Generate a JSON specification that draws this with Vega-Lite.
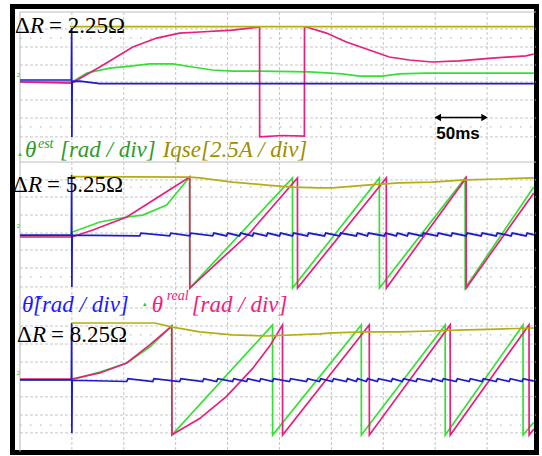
{
"$schema":"https://vega.github.io/schema/vega-lite/v6.json",
"width":542,"height":456,
"autosize":{"type":"fit","contains":"padding"},
"padding":{"left":12.5,"top":6.5,"right":4.5,"bottom":3.5},
"background":"white",
"config":{"view":{"stroke":"#000000","strokeWidth":5,"fill":"white"}},
"datasets":{
"hg":[{"g":1.26},{"g":2.27},{"g":3.28},{"g":4.23},{"g":5.24},{"g":6.25},{"g":7.31},{"g":9.72},{"g":10.68},{"g":11.69},{"g":12.7},{"g":13.65},{"g":14.66},{"g":15.72},{"g":16.9},{"g":17.91},{"g":18.92},{"g":19.93},{"g":20.93},{"g":21.88},{"g":22.9},{"g":23.9}],
"hd":[{"g":1.77},{"g":6.75},{"g":10.12},{"g":15.16},{"g":18.41},{"g":23.46}],
"hs":[{"g":0.31},{"g":8.72}],
"vg":[{"g":0},{"g":50},{"g":100},{"g":150},{"g":200},{"g":250},{"g":300},{"g":350},{"g":400}],
"tr":[
{"p":1,"s":"est","t":-50,"y":4.23},{"p":1,"s":"est","t":0,"y":4.23},{"p":1,"s":"est","t":14.4,"y":3.73},{"p":1,"s":"est","t":36.5,"y":3.45},{"p":1,"s":"est","t":58.7,"y":3.33},{"p":1,"s":"est","t":75,"y":3.22},{"p":1,"s":"est","t":97.1,"y":3.22},{"p":1,"s":"est","t":116.3,"y":3.39},{"p":1,"s":"est","t":135.6,"y":3.56},{"p":1,"s":"est","t":154.8,"y":3.62},{"p":1,"s":"est","t":180.8,"y":3.62},{"p":1,"s":"est","t":228.8,"y":3.67},{"p":1,"s":"est","t":260.6,"y":3.78},{"p":1,"s":"est","t":276.9,"y":3.9},{"p":1,"s":"est","t":299,"y":3.9},{"p":1,"s":"est","t":315.4,"y":3.78},{"p":1,"s":"est","t":341.3,"y":3.73},{"p":1,"s":"est","t":445,"y":3.73},
{"p":2,"s":"est","t":-50,"y":12.86},{"p":2,"s":"est","t":0,"y":12.86},{"p":2,"s":"est","t":0.5,"y":12.64},{"p":2,"s":"est","t":26.9,"y":12.08},{"p":2,"s":"est","t":52.9,"y":11.8},{"p":2,"s":"est","t":68.3,"y":11.69},{"p":2,"s":"est","t":91.3,"y":11.13},{"p":2,"s":"est","t":113.5,"y":9.56},{"p":2,"s":"est","t":113.6,"y":15.78},{"p":2,"s":"est","t":212.5,"y":9.61},{"p":2,"s":"est","t":212.6,"y":15.78},{"p":2,"s":"est","t":296.2,"y":9.61},{"p":2,"s":"est","t":296.3,"y":15.78},{"p":2,"s":"est","t":378.8,"y":9.61},{"p":2,"s":"est","t":378.9,"y":15.78},{"p":2,"s":"est","t":445,"y":10.12},
{"p":3,"s":"est","t":-50,"y":20.93},{"p":3,"s":"est","t":0,"y":20.93},{"p":3,"s":"est","t":26.9,"y":20.49},{"p":3,"s":"est","t":52.9,"y":19.98},{"p":3,"s":"est","t":75,"y":19.09},{"p":3,"s":"est","t":96.2,"y":17.91},{"p":3,"s":"est","t":96.3,"y":24.02},{"p":3,"s":"est","t":193.3,"y":17.85},{"p":3,"s":"est","t":193.4,"y":24.02},{"p":3,"s":"est","t":278.8,"y":17.85},{"p":3,"s":"est","t":278.9,"y":24.02},{"p":3,"s":"est","t":359.6,"y":17.85},{"p":3,"s":"est","t":359.7,"y":24.02},{"p":3,"s":"est","t":434.6,"y":17.85},{"p":3,"s":"est","t":434.7,"y":24.02},{"p":3,"s":"est","t":445,"y":23.3},
{"p":1,"s":"real","t":-50,"y":4.23},{"p":1,"s":"real","t":0,"y":4.29},{"p":1,"s":"real","t":26.9,"y":3.39},{"p":1,"s":"real","t":58.7,"y":2.27},{"p":1,"s":"real","t":81.7,"y":1.77},{"p":1,"s":"real","t":103.8,"y":1.49},{"p":1,"s":"real","t":123.1,"y":1.43},{"p":1,"s":"real","t":154.8,"y":1.32},{"p":1,"s":"real","t":180.8,"y":1.15},{"p":1,"s":"real","t":180.9,"y":7.31},{"p":1,"s":"real","t":202.9,"y":7.23},{"p":1,"s":"real","t":224,"y":7.26},{"p":1,"s":"real","t":224.1,"y":1.15},{"p":1,"s":"real","t":226,"y":1.15},{"p":1,"s":"real","t":245.2,"y":1.49},{"p":1,"s":"real","t":264.4,"y":1.99},{"p":1,"s":"real","t":286.5,"y":2.44},{"p":1,"s":"real","t":305.8,"y":2.83},{"p":1,"s":"real","t":325,"y":3.0},{"p":1,"s":"real","t":347.1,"y":3.11},{"p":1,"s":"real","t":373.1,"y":3.05},{"p":1,"s":"real","t":404.8,"y":2.89},{"p":1,"s":"real","t":437.5,"y":2.77},{"p":1,"s":"real","t":445,"y":2.66},
{"p":2,"s":"real","t":-50,"y":12.92},{"p":2,"s":"real","t":0,"y":12.92},{"p":2,"s":"real","t":20.2,"y":12.53},{"p":2,"s":"real","t":52.9,"y":11.8},{"p":2,"s":"real","t":81.7,"y":10.73},{"p":2,"s":"real","t":113.5,"y":9.56},{"p":2,"s":"real","t":113.6,"y":15.78},{"p":2,"s":"real","t":171.2,"y":12.7},{"p":2,"s":"real","t":217.3,"y":9.61},{"p":2,"s":"real","t":217.4,"y":15.78},{"p":2,"s":"real","t":302.9,"y":9.61},{"p":2,"s":"real","t":303,"y":15.78},{"p":2,"s":"real","t":379.8,"y":9.61},{"p":2,"s":"real","t":379.9,"y":15.78},{"p":2,"s":"real","t":445,"y":10.45},
{"p":3,"s":"real","t":-50,"y":20.88},{"p":3,"s":"real","t":0,"y":20.88},{"p":3,"s":"real","t":26.9,"y":20.54},{"p":3,"s":"real","t":52.9,"y":19.98},{"p":3,"s":"real","t":75,"y":18.97},{"p":3,"s":"real","t":96.2,"y":17.91},{"p":3,"s":"real","t":96.4,"y":24.0},{"p":3,"s":"real","t":123.1,"y":23.1},{"p":3,"s":"real","t":149,"y":21.85},{"p":3,"s":"real","t":174,"y":20.3},{"p":3,"s":"real","t":190.4,"y":19.05},{"p":3,"s":"real","t":202.9,"y":17.85},{"p":3,"s":"real","t":203,"y":24.02},{"p":3,"s":"real","t":286.5,"y":17.85},{"p":3,"s":"real","t":286.6,"y":24.02},{"p":3,"s":"real","t":364.4,"y":17.85},{"p":3,"s":"real","t":364.5,"y":24.02},{"p":3,"s":"real","t":440.4,"y":17.85},{"p":3,"s":"real","t":440.5,"y":24.02},{"p":3,"s":"real","t":445,"y":23.68},
{"p":1,"s":"err","t":-50,"y":4.12},{"p":1,"s":"err","t":-0.5,"y":4.12},{"p":1,"s":"err","t":-0.2,"y":1.21},{"p":1,"s":"err","t":0,"y":7.31},{"p":1,"s":"err","t":0.3,"y":4.2},{"p":1,"s":"err","t":7.7,"y":4.18},{"p":1,"s":"err","t":26.9,"y":4.32},{"p":1,"s":"err","t":445,"y":4.32},
{"p":2,"s":"err","t":-50,"y":12.81},{"p":2,"s":"err","t":-0.5,"y":12.81},{"p":2,"s":"err","t":-0.2,"y":9.45},{"p":2,"s":"err","t":0,"y":15.72},{"p":2,"s":"err","t":0.3,"y":12.81},
{"p":2,"s":"err","t":65.4,"y":12.86},{"p":2,"s":"err","t":66.6,"y":12.7},{"p":2,"s":"err","t":94.2,"y":12.86},{"p":2,"s":"err","t":95.4,"y":12.7},{"p":2,"s":"err","t":113.5,"y":12.86},{"p":2,"s":"err","t":114.7,"y":12.7},{"p":2,"s":"err","t":135.6,"y":12.86},{"p":2,"s":"err","t":136.8,"y":12.7},{"p":2,"s":"err","t":149,"y":12.86},{"p":2,"s":"err","t":150.2,"y":12.7},{"p":2,"s":"err","t":161.5,"y":12.86},{"p":2,"s":"err","t":162.7,"y":12.7},{"p":2,"s":"err","t":174,"y":12.86},{"p":2,"s":"err","t":175.2,"y":12.7},{"p":2,"s":"err","t":187.5,"y":12.86},{"p":2,"s":"err","t":188.7,"y":12.7},{"p":2,"s":"err","t":200,"y":12.86},{"p":2,"s":"err","t":201.2,"y":12.7},{"p":2,"s":"err","t":212.5,"y":12.86},{"p":2,"s":"err","t":213.7,"y":12.7},{"p":2,"s":"err","t":226.9,"y":12.86},{"p":2,"s":"err","t":228.1,"y":12.7},{"p":2,"s":"err","t":243.3,"y":12.86},{"p":2,"s":"err","t":244.5,"y":12.7},{"p":2,"s":"err","t":257.7,"y":12.86},{"p":2,"s":"err","t":258.9,"y":12.7},{"p":2,"s":"err","t":274,"y":12.86},{"p":2,"s":"err","t":275.2,"y":12.7},{"p":2,"s":"err","t":284.6,"y":12.86},{"p":2,"s":"err","t":285.8,"y":12.7},{"p":2,"s":"err","t":301,"y":12.86},{"p":2,"s":"err","t":302.2,"y":12.7},{"p":2,"s":"err","t":312.5,"y":12.86},{"p":2,"s":"err","t":313.7,"y":12.7},{"p":2,"s":"err","t":323.1,"y":12.86},{"p":2,"s":"err","t":324.3,"y":12.7},{"p":2,"s":"err","t":337.5,"y":12.86},{"p":2,"s":"err","t":338.7,"y":12.7},{"p":2,"s":"err","t":351.9,"y":12.86},{"p":2,"s":"err","t":353.1,"y":12.7},{"p":2,"s":"err","t":365.4,"y":12.86},{"p":2,"s":"err","t":366.6,"y":12.7},{"p":2,"s":"err","t":379.8,"y":12.86},{"p":2,"s":"err","t":381,"y":12.7},{"p":2,"s":"err","t":394.2,"y":12.86},{"p":2,"s":"err","t":395.4,"y":12.7},{"p":2,"s":"err","t":408.7,"y":12.86},{"p":2,"s":"err","t":409.9,"y":12.7},{"p":2,"s":"err","t":423.1,"y":12.86},{"p":2,"s":"err","t":424.3,"y":12.7},{"p":2,"s":"err","t":437.5,"y":12.86},{"p":2,"s":"err","t":438.7,"y":12.7},{"p":2,"s":"err","t":445,"y":12.8},
{"p":3,"s":"err","t":-50,"y":20.93},{"p":3,"s":"err","t":-0.5,"y":20.93},{"p":3,"s":"err","t":-0.2,"y":17.74},{"p":3,"s":"err","t":0,"y":23.9},{"p":3,"s":"err","t":0.3,"y":20.95},
{"p":3,"s":"err","t":52.9,"y":21.02},{"p":3,"s":"err","t":54.1,"y":20.86},{"p":3,"s":"err","t":77.9,"y":21.02},{"p":3,"s":"err","t":79.1,"y":20.86},{"p":3,"s":"err","t":103.8,"y":21.02},{"p":3,"s":"err","t":105,"y":20.86},{"p":3,"s":"err","t":126,"y":21.02},{"p":3,"s":"err","t":127.2,"y":20.86},{"p":3,"s":"err","t":139.4,"y":21.02},{"p":3,"s":"err","t":140.6,"y":20.86},{"p":3,"s":"err","t":154.8,"y":21.02},{"p":3,"s":"err","t":156,"y":20.86},{"p":3,"s":"err","t":168.3,"y":21.02},{"p":3,"s":"err","t":169.5,"y":20.86},{"p":3,"s":"err","t":180.8,"y":21.02},{"p":3,"s":"err","t":182,"y":20.86},{"p":3,"s":"err","t":193.3,"y":21.02},{"p":3,"s":"err","t":194.5,"y":20.86},{"p":3,"s":"err","t":209.6,"y":21.02},{"p":3,"s":"err","t":210.8,"y":20.86},{"p":3,"s":"err","t":226,"y":21.02},{"p":3,"s":"err","t":227.2,"y":20.86},{"p":3,"s":"err","t":238.5,"y":21.02},{"p":3,"s":"err","t":239.7,"y":20.86},{"p":3,"s":"err","t":251,"y":21.02},{"p":3,"s":"err","t":252.2,"y":20.86},{"p":3,"s":"err","t":264.4,"y":21.02},{"p":3,"s":"err","t":265.6,"y":20.86},{"p":3,"s":"err","t":274,"y":21.02},{"p":3,"s":"err","t":275.2,"y":20.86},{"p":3,"s":"err","t":283.7,"y":21.02},{"p":3,"s":"err","t":284.9,"y":20.86},{"p":3,"s":"err","t":294.2,"y":21.02},{"p":3,"s":"err","t":295.4,"y":20.86},{"p":3,"s":"err","t":307.7,"y":21.02},{"p":3,"s":"err","t":308.9,"y":20.86},{"p":3,"s":"err","t":318.3,"y":21.02},{"p":3,"s":"err","t":319.5,"y":20.86},{"p":3,"s":"err","t":331.7,"y":21.02},{"p":3,"s":"err","t":332.9,"y":20.86},{"p":3,"s":"err","t":346.2,"y":21.02},{"p":3,"s":"err","t":347.4,"y":20.86},{"p":3,"s":"err","t":356.7,"y":21.02},{"p":3,"s":"err","t":357.9,"y":20.86},{"p":3,"s":"err","t":370.2,"y":21.02},{"p":3,"s":"err","t":371.4,"y":20.86},{"p":3,"s":"err","t":382.7,"y":21.02},{"p":3,"s":"err","t":383.9,"y":20.86},{"p":3,"s":"err","t":395.2,"y":21.02},{"p":3,"s":"err","t":396.4,"y":20.86},{"p":3,"s":"err","t":408.7,"y":21.02},{"p":3,"s":"err","t":409.9,"y":20.86},{"p":3,"s":"err","t":421.2,"y":21.02},{"p":3,"s":"err","t":422.4,"y":20.86},{"p":3,"s":"err","t":433.7,"y":21.02},{"p":3,"s":"err","t":434.9,"y":20.86},{"p":3,"s":"err","t":445,"y":21.0},
{"p":1,"s":"iq","t":-1.9,"y":1.13},{"p":1,"s":"iq","t":445,"y":1.13},
{"p":2,"s":"iq","t":0,"y":9.54},{"p":2,"s":"iq","t":113.5,"y":9.56},{"p":2,"s":"iq","t":123.1,"y":9.61},{"p":2,"s":"iq","t":154.8,"y":9.84},{"p":2,"s":"iq","t":187.5,"y":10.01},{"p":2,"s":"iq","t":212.5,"y":10.12},{"p":2,"s":"iq","t":238.5,"y":10.17},{"p":2,"s":"iq","t":251,"y":10.17},{"p":2,"s":"iq","t":283.7,"y":10.01},{"p":2,"s":"iq","t":315.4,"y":9.89},{"p":2,"s":"iq","t":347.1,"y":9.84},{"p":2,"s":"iq","t":379,"y":9.72},{"p":2,"s":"iq","t":411,"y":9.67},{"p":2,"s":"iq","t":445,"y":9.61},
{"p":3,"s":"iq","t":0,"y":17.74},{"p":3,"s":"iq","t":79.8,"y":17.74},{"p":3,"s":"iq","t":97.1,"y":17.97},{"p":3,"s":"iq","t":123.1,"y":18.24},{"p":3,"s":"iq","t":154.8,"y":18.41},{"p":3,"s":"iq","t":187.5,"y":18.47},{"p":3,"s":"iq","t":238.5,"y":18.35},{"p":3,"s":"iq","t":251,"y":18.3},{"p":3,"s":"iq","t":283.7,"y":18.24},{"p":3,"s":"iq","t":315.4,"y":18.24},{"p":3,"s":"iq","t":347.1,"y":18.19},{"p":3,"s":"iq","t":379.8,"y":18.13},{"p":3,"s":"iq","t":411,"y":18.08},{"p":3,"s":"iq","t":445,"y":18.02}
],
"big":[
{"t":-54.8,"y":1.46,"s":"k","txt":"Δ"},{"t":-22,"y":1.46,"s":"k","txt":"= 2.25Ω"},
{"t":-56.7,"y":10.38,"s":"k","txt":"Δ"},{"t":-24,"y":10.38,"s":"k","txt":"= 5.25Ω"},
{"t":-52.9,"y":18.79,"s":"k","txt":"Δ"},{"t":-20.2,"y":18.79,"s":"k","txt":"= 8.25Ω"}
],
"bigi":[
{"t":-40.4,"y":1.46,"s":"k","txt":"R"},{"t":-42.3,"y":10.38,"s":"k","txt":"R"},{"t":-38.5,"y":18.79,"s":"k","txt":"R"},
{"t":-45.2,"y":8.44,"s":"lest","txt":"θ"},{"t":-48.1,"y":17.12,"s":"lerr","txt":"θ̃"},{"t":76.9,"y":17.12,"s":"lreal","txt":"θ"}
],
"lbl":[
{"t":-11.5,"y":8.44,"s":"lest","txt":"[rad / div]"},{"t":87.5,"y":8.44,"s":"liq","txt":"Iqse[2.5A / div]"},
{"t":-37.5,"y":17.12,"s":"lerr","txt":"[rad / div]"},{"t":115.4,"y":17.12,"s":"lreal","txt":"[rad / div]"}
],
"sup":[{"t":-32.7,"y":7.93,"s":"lest","txt":"est"},{"t":91.3,"y":16.45,"s":"lreal","txt":"real"}],
"mk":[{"t":-52.9,"y":8.4,"txt":"▲"},{"t":67.3,"y":16.8,"txt":"▲"},{"t":-53,"y":3.95,"txt":"2"},{"t":-53,"y":12.42,"txt":"2"},{"t":-53,"y":20.66,"txt":"2"}],
"arr":[{"t":352.5,"y":6.22,"d":"l"},{"t":397.5,"y":6.22,"d":"r"}]
},
"layer":[
{"data":{"name":"hg"},"mark":{"type":"rule","color":"#c6c6c6","strokeWidth":1,"strokeDash":[3,2]},
 "encoding":{"y":{"field":"g","type":"quantitative","scale":{"domain":[0,25],"reverse":true,"nice":false,"zero":false},"axis":null},
 "x":{"datum":-50,"type":"quantitative","scale":{"domain":[-57.2,447.6],"nice":false,"zero":false},"axis":null},"x2":{"datum":447}}},
{"data":{"name":"hd"},"mark":{"type":"rule","color":"#bcbcbc","strokeWidth":1.2,"strokeDash":[1.5,8.5]},
 "encoding":{"y":{"field":"g","type":"quantitative"},"x":{"datum":-50,"type":"quantitative"},"x2":{"datum":447}}},
{"data":{"name":"hs"},"mark":{"type":"rule","color":"#bdbdbd","strokeWidth":1},
 "encoding":{"y":{"field":"g","type":"quantitative"},"x":{"datum":-50,"type":"quantitative"},"x2":{"datum":447}}},
{"data":{"name":"vg"},"mark":{"type":"rule","color":"#c6c6c6","strokeWidth":1,"strokeDash":[3,2]},
 "encoding":{"x":{"field":"g","type":"quantitative"},"y":{"datum":0.31,"type":"quantitative"},"y2":{"datum":24.95}}},
{"data":{"values":[{"g":-50}]},"mark":{"type":"rule","color":"#b5b5b5","strokeWidth":1},
 "encoding":{"x":{"field":"g","type":"quantitative"},"y":{"datum":0.31,"type":"quantitative"},"y2":{"datum":24.95}}},
{"data":{"name":"tr"},"mark":{"type":"line","strokeWidth":1.7},
 "encoding":{"x":{"field":"t","type":"quantitative"},"y":{"field":"y","type":"quantitative"},
 "detail":{"field":"p"},
 "color":{"field":"s","type":"nominal","legend":null,"scale":{"domain":["est","real","err","iq","k","lest","liq","lerr","lreal"],"range":["#35e035","#e6207c","#1c1ccc","#b4ae12","#000000","#2e9a2e","#9c8e00","#1a1aff","#f0207f"]}}}},
{"data":{"name":"big"},"mark":{"type":"text","font":"Liberation Serif, serif","fontSize":23,"align":"left","baseline":"alphabetic"},
 "encoding":{"x":{"field":"t","type":"quantitative"},"y":{"field":"y","type":"quantitative"},"text":{"field":"txt"},"color":{"field":"s","type":"nominal","legend":null}}},
{"data":{"name":"bigi"},"mark":{"type":"text","font":"Liberation Serif, serif","fontSize":23,"fontStyle":"italic","align":"left","baseline":"alphabetic"},
 "encoding":{"x":{"field":"t","type":"quantitative"},"y":{"field":"y","type":"quantitative"},"text":{"field":"txt"},"color":{"field":"s","type":"nominal","legend":null}}},
{"data":{"name":"lbl"},"mark":{"type":"text","font":"Liberation Serif, serif","fontSize":23,"fontStyle":"italic","align":"left","baseline":"alphabetic"},
 "encoding":{"x":{"field":"t","type":"quantitative"},"y":{"field":"y","type":"quantitative"},"text":{"field":"txt"},"color":{"field":"s","type":"nominal","legend":null}}},
{"data":{"name":"sup"},"mark":{"type":"text","font":"Liberation Serif, serif","fontSize":14,"fontStyle":"italic","align":"left","baseline":"alphabetic"},
 "encoding":{"x":{"field":"t","type":"quantitative"},"y":{"field":"y","type":"quantitative"},"text":{"field":"txt"},"color":{"field":"s","type":"nominal","legend":null}}},
{"data":{"name":"mk"},"mark":{"type":"text","font":"Liberation Sans","fontSize":6,"color":"#22cc22","align":"left","baseline":"alphabetic"},
 "encoding":{"x":{"field":"t","type":"quantitative"},"y":{"field":"y","type":"quantitative"},"text":{"field":"txt"}}},
{"data":{"values":[{"a":350,"b":399,"y":6.22}]},"mark":{"type":"rule","color":"#000000","strokeWidth":1.5},
 "encoding":{"x":{"field":"a","type":"quantitative"},"x2":{"field":"b"},"y":{"field":"y","type":"quantitative"}}},
{"data":{"name":"arr"},"mark":{"type":"point","filled":true,"color":"#000000","opacity":1,"size":55},
 "encoding":{"x":{"field":"t","type":"quantitative"},"y":{"field":"y","type":"quantitative"},
 "shape":{"field":"d","type":"nominal","legend":null,"scale":{"domain":["l","r"],"range":["triangle-left","triangle-right"]}}}},
{"data":{"values":[{"t":351,"y":7.43,"txt":"50ms"}]},"mark":{"type":"text","font":"Liberation Sans","fontSize":17,"fontWeight":"bold","align":"left","baseline":"alphabetic","color":"#000000"},
 "encoding":{"x":{"field":"t","type":"quantitative"},"y":{"field":"y","type":"quantitative"},"text":{"field":"txt"}}}
]
}
